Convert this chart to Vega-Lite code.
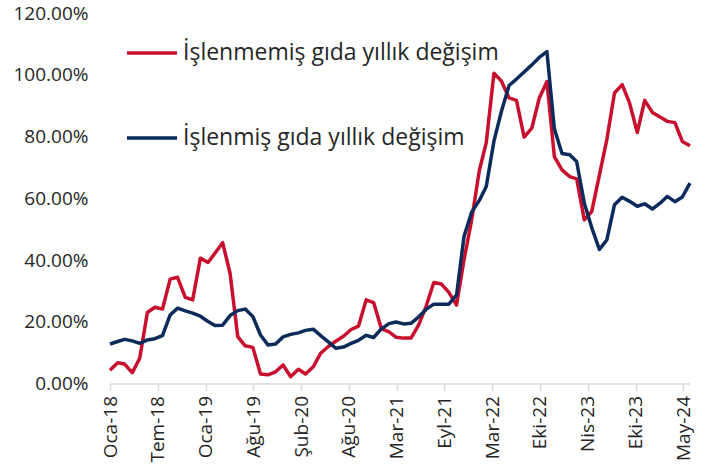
{
  "$schema": "https://vega.github.io/schema/vega-lite/v6.json",
  "width": 580,
  "height": 370.5,
  "autosize": {"type": "none"},
  "padding": {"left": 110, "top": 13, "right": 19, "bottom": 91.5},
  "background": "white",
  "config": {"view": {"stroke": null}, "font": "Open Sans"},
  "data": {
    "values": [
      {"date": "2018-01-01", "islenmemis": 4.3, "islenmis": 12.8},
      {"date": "2018-02-01", "islenmemis": 6.7, "islenmis": 13.6},
      {"date": "2018-03-01", "islenmemis": 6.3, "islenmis": 14.3},
      {"date": "2018-04-01", "islenmemis": 3.5, "islenmis": 13.8},
      {"date": "2018-05-01", "islenmemis": 8.2, "islenmis": 13.0},
      {"date": "2018-06-01", "islenmemis": 23.0, "islenmis": 14.1},
      {"date": "2018-07-01", "islenmemis": 24.7, "islenmis": 14.5},
      {"date": "2018-08-01", "islenmemis": 24.1, "islenmis": 15.5},
      {"date": "2018-09-01", "islenmemis": 33.8, "islenmis": 22.2},
      {"date": "2018-10-01", "islenmemis": 34.4, "islenmis": 24.4},
      {"date": "2018-11-01", "islenmemis": 27.9, "islenmis": 23.5},
      {"date": "2018-12-01", "islenmemis": 27.1, "islenmis": 22.8},
      {"date": "2019-01-01", "islenmemis": 40.6, "islenmis": 21.8},
      {"date": "2019-02-01", "islenmemis": 39.2, "islenmis": 20.1},
      {"date": "2019-03-01", "islenmemis": 42.2, "islenmis": 18.8},
      {"date": "2019-04-01", "islenmemis": 45.6, "islenmis": 18.9},
      {"date": "2019-05-01", "islenmemis": 35.7, "islenmis": 22.0},
      {"date": "2019-06-01", "islenmemis": 15.2, "islenmis": 23.6},
      {"date": "2019-07-01", "islenmemis": 12.2, "islenmis": 24.1},
      {"date": "2019-08-01", "islenmemis": 11.7, "islenmis": 21.7},
      {"date": "2019-09-01", "islenmemis": 3.1, "islenmis": 15.7},
      {"date": "2019-10-01", "islenmemis": 2.8, "islenmis": 12.5},
      {"date": "2019-11-01", "islenmemis": 3.8, "islenmis": 12.8},
      {"date": "2019-12-01", "islenmemis": 6.0, "islenmis": 15.1},
      {"date": "2020-01-01", "islenmemis": 2.2, "islenmis": 15.9},
      {"date": "2020-02-01", "islenmemis": 4.6, "islenmis": 16.4},
      {"date": "2020-03-01", "islenmemis": 3.1, "islenmis": 17.2},
      {"date": "2020-04-01", "islenmemis": 5.4, "islenmis": 17.6},
      {"date": "2020-05-01", "islenmemis": 9.8, "islenmis": 15.5},
      {"date": "2020-06-01", "islenmemis": 12.0, "islenmis": 13.5},
      {"date": "2020-07-01", "islenmemis": 13.7, "islenmis": 11.4},
      {"date": "2020-08-01", "islenmemis": 15.3, "islenmis": 11.8},
      {"date": "2020-09-01", "islenmemis": 17.5, "islenmis": 13.0},
      {"date": "2020-10-01", "islenmemis": 18.6, "islenmis": 14.0},
      {"date": "2020-11-01", "islenmemis": 27.1, "islenmis": 15.6},
      {"date": "2020-12-01", "islenmemis": 26.2, "islenmis": 14.9},
      {"date": "2021-01-01", "islenmemis": 17.8, "islenmis": 17.7},
      {"date": "2021-02-01", "islenmemis": 16.7, "islenmis": 19.4},
      {"date": "2021-03-01", "islenmemis": 15.0, "islenmis": 19.9},
      {"date": "2021-04-01", "islenmemis": 14.7, "islenmis": 19.3},
      {"date": "2021-05-01", "islenmemis": 14.7, "islenmis": 19.5},
      {"date": "2021-06-01", "islenmemis": 19.0, "islenmis": 21.6},
      {"date": "2021-07-01", "islenmemis": 25.0, "islenmis": 24.0},
      {"date": "2021-08-01", "islenmemis": 32.7, "islenmis": 25.7},
      {"date": "2021-09-01", "islenmemis": 32.2, "islenmis": 25.7},
      {"date": "2021-10-01", "islenmemis": 29.5, "islenmis": 25.7},
      {"date": "2021-11-01", "islenmemis": 25.4, "islenmis": 28.7},
      {"date": "2021-12-01", "islenmemis": 40.0, "islenmis": 47.6},
      {"date": "2022-01-01", "islenmemis": 53.0, "islenmis": 55.5},
      {"date": "2022-02-01", "islenmemis": 69.0, "islenmis": 59.3},
      {"date": "2022-03-01", "islenmemis": 78.0, "islenmis": 63.8},
      {"date": "2022-04-01", "islenmemis": 100.5, "islenmis": 78.5},
      {"date": "2022-05-01", "islenmemis": 98.0, "islenmis": 88.1},
      {"date": "2022-06-01", "islenmemis": 92.5, "islenmis": 96.5},
      {"date": "2022-07-01", "islenmemis": 91.7, "islenmis": 98.6},
      {"date": "2022-08-01", "islenmemis": 79.8, "islenmis": 100.9},
      {"date": "2022-09-01", "islenmemis": 82.7, "islenmis": 103.2},
      {"date": "2022-10-01", "islenmemis": 92.4, "islenmis": 105.6},
      {"date": "2022-11-01", "islenmemis": 97.8, "islenmis": 107.5},
      {"date": "2022-12-01", "islenmemis": 73.5, "islenmis": 82.5},
      {"date": "2023-01-01", "islenmemis": 69.2, "islenmis": 74.5},
      {"date": "2023-02-01", "islenmemis": 67.0, "islenmis": 74.1},
      {"date": "2023-03-01", "islenmemis": 66.3, "islenmis": 71.9},
      {"date": "2023-04-01", "islenmemis": 53.0, "islenmis": 58.4},
      {"date": "2023-05-01", "islenmemis": 55.7, "islenmis": 50.5},
      {"date": "2023-06-01", "islenmemis": 67.5, "islenmis": 43.4},
      {"date": "2023-07-01", "islenmemis": 79.0, "islenmis": 46.5},
      {"date": "2023-08-01", "islenmemis": 94.1, "islenmis": 57.9},
      {"date": "2023-09-01", "islenmemis": 96.8, "islenmis": 60.3},
      {"date": "2023-10-01", "islenmemis": 90.8, "islenmis": 59.0},
      {"date": "2023-11-01", "islenmemis": 81.3, "islenmis": 57.4},
      {"date": "2023-12-01", "islenmemis": 91.7, "islenmis": 58.2},
      {"date": "2024-01-01", "islenmemis": 87.8, "islenmis": 56.5},
      {"date": "2024-02-01", "islenmemis": 86.3, "islenmis": 58.4},
      {"date": "2024-03-01", "islenmemis": 84.9, "islenmis": 60.6},
      {"date": "2024-04-01", "islenmemis": 84.5, "islenmis": 58.9},
      {"date": "2024-05-01", "islenmemis": 78.4, "islenmis": 60.4},
      {"date": "2024-06-01", "islenmemis": 77.0, "islenmis": 64.9}
    ]
  },
  "transform": [{"fold": ["islenmemis", "islenmis"], "as": ["seri", "deger"]}],
  "mark": {"type": "line", "strokeWidth": 3.5, "strokeJoin": "round"},
  "encoding": {
    "x": {
      "field": "date",
      "type": "temporal",
      "scale": {"type": "utc", "domain": [1514764800000, 1717200000000]},
      "axis": {
        "title": null,
        "values": [1514764800000, 1531440000000, 1548115200000, 1564790400000, 1581465600000, 1598140800000, 1614816000000, 1631491200000, 1648166400000, 1664841600000, 1681516800000, 1698192000000, 1714867200000],
        "labelExpr": "['Oca','Şub','Mar','Nis','May','Haz','Tem','Ağu','Eyl','Eki','Kas','Ara'][utcmonth(datum.value)] + '-' + utcFormat(datum.value, '%y')",
        "labelAngle": -90,
        "labelFontSize": 19,
        "labelColor": "#262626",
        "labelFont": "Open Sans",
        "labelPadding": 5,
        "labelOverlap": false,
        "domainColor": "#D9D9D9",
        "domainWidth": 1.5,
        "tickColor": "#D9D9D9",
        "tickWidth": 1.5,
        "tickSize": 7,
        "grid": false
      }
    },
    "y": {
      "field": "deger",
      "type": "quantitative",
      "scale": {"domain": [0, 120], "nice": false},
      "axis": {
        "title": null,
        "values": [0, 20, 40, 60, 80, 100, 120],
        "labelExpr": "format(datum.value, '.2f') + '%'",
        "domain": false,
        "ticks": false,
        "grid": false,
        "labelPadding": 22,
        "labelFontSize": 19,
        "labelFont": "Open Sans",
        "labelColor": "#262626"
      }
    },
    "color": {
      "field": "seri",
      "type": "nominal",
      "scale": {"domain": ["islenmemis", "islenmis"], "range": ["#C8102E", "#0B2B5B"]},
      "legend": {
        "title": null,
        "orient": "none",
        "legendX": 15,
        "legendY": 13,
        "direction": "vertical",
        "symbolType": "stroke",
        "symbolSize": 2500,
        "symbolStrokeWidth": 3.5,
        "labelFontSize": 23,
        "labelFont": "Open Sans",
        "labelColor": "#262626",
        "labelLimit": 0,
        "rowPadding": 46,
        "labelExpr": "datum.value == 'islenmemis' ? 'İşlenmemiş gıda yıllık değişim' : 'İşlenmiş gıda yıllık değişim'"
      }
    }
  }
}
